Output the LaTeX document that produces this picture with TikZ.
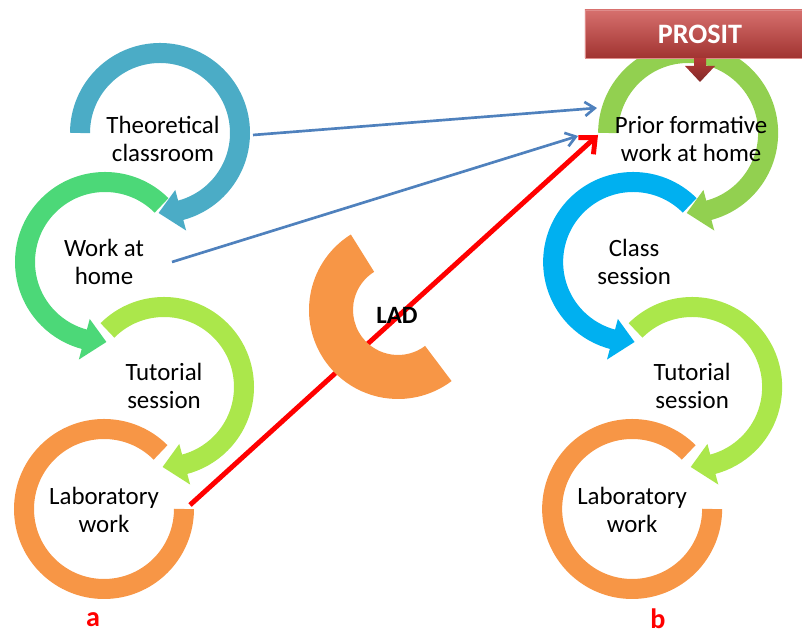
\documentclass[tikz,border=0pt]{standalone}
\usepackage{fontspec}
\setmainfont{Carlito}
\usetikzlibrary{positioning}
\usetikzlibrary{arrows.meta}
\definecolor{theoblue}{HTML}{4BACC6}
\definecolor{homegreen}{HTML}{4CD878}
\definecolor{tutgreen}{HTML}{ABE74B}
\definecolor{laborange}{HTML}{F79646}
\definecolor{priorgreen}{HTML}{92D050}
\definecolor{classblue}{HTML}{00B0F0}
\definecolor{linkblue}{HTML}{4F81BD}
\definecolor{prositred}{HTML}{C9403D}
% ring turning clockwise, with head: centre, colour, start angle
\newcommand*\cwring[3]{
   \draw[ring,#2] ([shift={(#3:80)}]#1) arc[start angle=#3,end angle=-76,radius=80];
   \fill[#2] ([shift={(-75:59)}]#1) -- ([shift={(-75:101)}]#1) -- ([shift={(-91:80)}]#1) -- cycle;}
% ring turning the other way
\newcommand*\ccwring[3]{
   \draw[ring,#2] ([shift={(#3:80)}]#1) arc[start angle=#3,end angle=256,radius=80];
   \fill[#2] ([shift={(255:59)}]#1) -- ([shift={(255:101)}]#1) -- ([shift={(271:80)}]#1) -- cycle;}

\begin{document}
\begin{tikzpicture}[x=0.025cm,y=0.025cm,on grid,
    ring/.style={line width=0.5cm},
    txt/.style={align=center,inner sep=0pt,font=\fontsize{17.7}{19.8}\selectfont},
    link/.style={linkblue,line width=1.9pt,-{Straight Barb[length=7pt,width=10pt]}},
    ladline/.style={red,line width=3.5pt,-{Straight Barb[length=9pt,width=16pt]}},
    prositbox/.style={top color=prositred!75!white,middle color=prositred,bottom color=prositred!80!black,
       draw=prositred!60!white,line width=0.6pt,text=white,minimum width=5.75cm,minimum height=1.2cm,
       font=\fontsize{20}{22}\selectfont\bfseries},
    tag/.style={red,inner sep=1pt,font=\fontsize{20}{22}\selectfont\bfseries}]
   \path[use as bounding box,clip] (0,0) rectangle (802,635);
   % ring centres
   \coordinate (theo) at (160,502);
   \coordinate (home) at (105,373);
   \coordinate (tut) at (164,248);
   \coordinate (lab) at (104,126);
   \coordinate[right=13.2cm of theo] (prior);
   \coordinate[right=13.2cm of home] (class);
   \coordinate[right=13.2cm of tut] (tut2);
   \coordinate[right=13.2cm of lab] (lab2);
   \coordinate (lad) at (398,325);
   % column a
   \cwring{theo}{theoblue}{180}
   \ccwring{home}{homegreen}{45}
   \cwring{tut}{tutgreen}{135}
   \draw[ring,laborange] ([shift={(45:80)}]lab) arc[start angle=45,end angle=360,radius=80];
   % column b
   \cwring{prior}{priorgreen}{180}
   \ccwring{class}{classblue}{45}
   \cwring{tut2}{tutgreen}{135}
   \draw[ring,laborange] ([shift={(45:80)}]lab2) arc[start angle=45,end angle=360,radius=80];
   % connectors
   \coordinate (theoOut) at (253,500);
   \coordinate (homeOut) at (172,373);
   \coordinate (labOut) at (190,130);
   \coordinate (priorIn1) at (597,527);
   \coordinate (priorIn2) at (578,499);
   \coordinate (priorIn3) at (598,500);
   \draw[link] (theoOut) -- (priorIn1);
   \draw[link] (homeOut) -- (priorIn2);
   \draw[ladline] (labOut) -- (priorIn3);
   % LAD
   \fill[laborange] ([shift={(122:89)}]lad) arc[start angle=122,end angle=307,radius=89]
      -- ([shift={(307:45)}]lad) arc[start angle=307,end angle=122,radius=45] -- cycle;
   \node[font=\fontsize{17.7}{19.8}\selectfont\bfseries] (ladText) at (397,320) {LAD};
   % texts
   \node[txt] (theoText) at (163,496) {Theoretical\\classroom};
   \node[txt] (homeText) at (104,373) {Work at\\home};
   \node[txt] (tutText) at (164,249) {Tutorial\\session};
   \node[txt] (labText) at (104,125) {Laboratory\\work};
   \node[txt,right=13.2cm of theoText] (priorText) {Prior formative\\work at home};
   \node[txt,right=13.25cm of homeText] (classText) {Class\\session};
   \node[txt,right=13.2cm of tutText] (tut2Text) {Tutorial\\session};
   \node[txt,right=13.2cm of labText] (lab2Text) {Laboratory\\work};
   % PROSIT
   \node[prositbox] (prosit) at (700,601) {PROSIT};
   \shade[top color=prositred!90!black,bottom color=prositred!65!black]
      (694,577) -- (706,577) -- (706,569) -- (715,569) -- (700,553) -- (685,569) -- (694,569) -- cycle;
   % panel tags
   \node[tag] (tagA) at (93,15) {a};
   \node[tag] (tagB) at (658,16) {b};
\end{tikzpicture}
\end{document}
